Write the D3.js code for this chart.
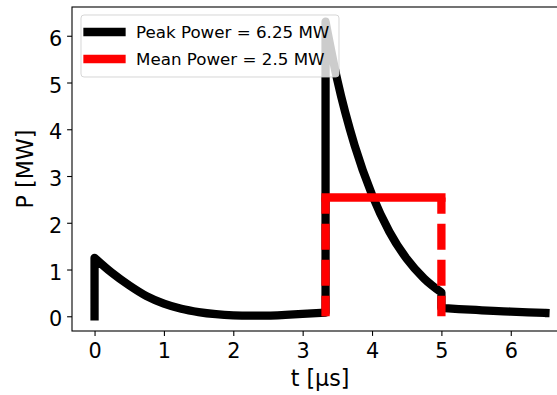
<!DOCTYPE html>
<html>
<head>
<meta charset="utf-8">
<script src="https://cdn.jsdelivr.net/npm/d3@7"></script>
<style>
  body { margin: 0; background: #fff; }
  svg { display: block; font-family: "DejaVu Sans", sans-serif; }
</style>
</head>
<body>
<svg id="chart" width="557" height="395"></svg>
<script>
// t in microseconds, P in MW
const chargeT = [0, 0.25, 0.5, 0.75, 1.0, 1.25, 1.5, 1.75, 2.0, 2.25, 2.5, 2.75, 3.0, 3.33];
const chargeP = [1.25, 0.93, 0.66, 0.43, 0.27, 0.16, 0.09, 0.045, 0.02, 0.012, 0.015, 0.03, 0.05, 0.08];

const pulseT = [3.33, 3.5, 3.75, 4.0, 4.25, 4.5, 4.75, 5.0];
const pulseP = [6.3, 5.05, 3.65, 2.6, 1.81, 1.23, 0.81, 0.51];

const tailT = [5.0, 5.25, 5.5, 5.75, 6.0, 6.25, 6.5];
const tailP = [0.18, 0.155, 0.135, 0.115, 0.1, 0.085, 0.07];

const meanT = [3.33, 5.0];
const meanP = 2.54;

const xTicks = [0, 1, 2, 3, 4, 5, 6];
const yTicks = [0, 1, 2, 3, 4, 5, 6];
const legendLabels = ["Peak Power = 6.25 MW", "Mean Power = 2.5 MW"];
const legendColors = ["#000000", "#ff0000"];

const LW = 8.3;
const box = { left: 72, right: 568, top: 7, bottom: 331 };

const svg = d3.select("#chart");

const x = d3.scaleLinear().domain([-0.325, 6.825]).range([box.left, box.right]);
const y = d3.scaleLinear().domain([-0.315, 6.615]).range([box.bottom, box.top]);

svg.append("defs").append("clipPath")
  .attr("id", "plot-clip")
  .append("rect")
  .attr("x", box.left)
  .attr("y", box.top)
  .attr("width", box.right - box.left)
  .attr("height", box.bottom - box.top);

const plot = svg.append("g").attr("clip-path", "url(#plot-clip)");

// one continuous trace: each smooth piece joined by the vertical jumps
const smooth = d3.line()
  .x(d => x(d[0]))
  .y(d => y(d[1]))
  .curve(d3.curveMonotoneX);

const piece = (ts, ps) => smooth(ts.map((t, i) => [t, ps[i]])).replace(/^M/, "L");

const tracePath = `M${x(0)},${y(0)}` +
  piece(chargeT, chargeP) +
  piece(pulseT, pulseP) +
  piece(tailT, tailP);

plot.append("path")
  .attr("d", tracePath)
  .attr("fill", "none")
  .attr("stroke", "#000")
  .attr("stroke-width", LW)
  .attr("stroke-linejoin", "round")
  .attr("stroke-linecap", "square");

// mean power: solid top, dashed sides
plot.append("line")
  .attr("x1", x(meanT[0]))
  .attr("x2", x(meanT[1]))
  .attr("y1", y(meanP))
  .attr("y2", y(meanP))
  .attr("stroke", "#ff0000")
  .attr("stroke-width", LW)
  .attr("stroke-linecap", "square");

plot.selectAll(".mean-side")
  .data(meanT)
  .enter()
  .append("line")
  .attr("class", "mean-side")
  .attr("x1", d => x(d))
  .attr("x2", d => x(d))
  .attr("y1", y(meanP))
  .attr("y2", y(0))
  .attr("stroke", "#ff0000")
  .attr("stroke-width", LW)
  .attr("stroke-dasharray", "26,10")
  .attr("stroke-dashoffset", 9.7)
  .attr("stroke-linecap", "butt");

// axes
const xAxis = svg.append("g")
  .attr("transform", `translate(0,${box.bottom})`)
  .call(d3.axisBottom(x).tickValues(xTicks).tickFormat(d3.format("d")).tickSize(4.9).tickPadding(4.9));

const yAxis = svg.append("g")
  .attr("transform", `translate(${box.left},0)`)
  .call(d3.axisLeft(y).tickValues(yTicks).tickFormat(d3.format("d")).tickSize(4.9).tickPadding(4.9));

[xAxis, yAxis].forEach(g => {
  g.select(".domain").remove();
  g.selectAll(".tick line").attr("stroke", "#000").attr("stroke-width", 1.1);
  g.selectAll(".tick text")
    .attr("fill", "#000")
    .style("font-size", "20.8px")
    .style("font-family", "'DejaVu Sans', sans-serif");
});
xAxis.selectAll(".tick text").attr("dy", null).attr("y", 27);
yAxis.selectAll(".tick text").attr("dy", null).attr("y", 9.5);

svg.append("rect")
  .attr("x", box.left)
  .attr("y", box.top)
  .attr("width", box.right - box.left)
  .attr("height", box.bottom - box.top)
  .attr("fill", "none")
  .attr("stroke", "#000")
  .attr("stroke-width", 1.1);

svg.append("text")
  .attr("x", (box.left + box.right) / 2)
  .attr("y", 386)
  .attr("text-anchor", "middle")
  .style("font-size", "22.2px")
  .text("t [μs]");

svg.append("text")
  .attr("transform", `translate(33,${(box.top + box.bottom) / 2}) rotate(-90)`)
  .attr("text-anchor", "middle")
  .style("font-size", "22.2px")
  .text("P [MW]");

// legend
const legend = svg.append("g");

legend.append("rect")
  .attr("x", 81)
  .attr("y", 15)
  .attr("width", 258)
  .attr("height", 62)
  .attr("rx", 3)
  .attr("fill", "rgba(255,255,255,0.8)")
  .attr("stroke", "rgba(204,204,204,0.8)")
  .attr("stroke-width", 1);

const rows = legend.selectAll(".legend-row")
  .data(legendLabels)
  .enter()
  .append("g")
  .attr("class", "legend-row")
  .attr("transform", (d, i) => `translate(0,${32 + i * 27})`);

rows.append("line")
  .attr("x1", 87.5)
  .attr("x2", 121.5)
  .attr("stroke", (d, i) => legendColors[i])
  .attr("stroke-width", LW)
  .attr("stroke-linecap", "square");

rows.append("text")
  .attr("x", 136)
  .attr("y", 6.3)
  .style("font-size", "16.7px")
  .text(d => d);
</script>
</body>
</html>
